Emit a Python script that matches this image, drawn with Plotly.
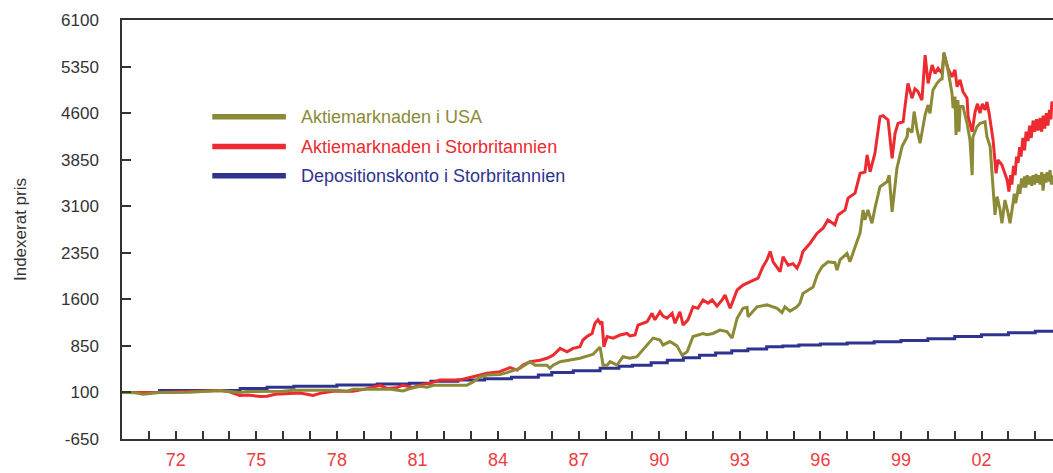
import plotly.graph_objects as go

# ---------------- data ----------------
usa_years = [1970.0, 1970.5, 1970.78, 1971.1, 1971.41, 1972.5, 1973.65, 1974.0, 1974.39, 1974.65,
             1976.0, 1976.37, 1977.5, 1978.01, 1978.38, 1978.6, 1979.6, 1980.0, 1980.46, 1980.7,
             1981.09, 1981.36, 1981.6, 1982.0, 1982.5, 1982.84, 1983.07, 1983.33, 1983.59, 1984.07,
             1984.33, 1984.82, 1985.19, 1985.38, 1985.82, 1985.93, 1986.05, 1986.31, 1986.68, 1987.05,
             1987.31, 1987.54, 1987.68, 1987.80, 1987.91, 1988.06, 1988.17, 1988.43, 1988.65, 1988.91,
             1989.17, 1989.28, 1989.66, 1989.77, 1990.03, 1990.14, 1990.40, 1990.51, 1990.66, 1990.85,
             1991.04, 1991.26, 1991.63, 1991.78, 1992.00, 1992.26, 1992.52, 1992.71, 1992.90, 1993.12,
             1993.27, 1993.31, 1993.64, 1994.01, 1994.39, 1994.57, 1994.68, 1994.87, 1995.13, 1995.24,
             1995.35, 1995.73, 1995.88, 1996.06, 1996.28, 1996.54, 1996.62, 1996.73, 1996.99, 1997.10,
             1997.29, 1997.48, 1997.59, 1997.66, 1997.77, 1997.92, 1998.03, 1998.22, 1998.48, 1998.56,
             1998.67, 1998.85, 1999.04, 1999.23, 1999.26, 1999.41, 1999.49, 1999.60, 1999.71, 1999.90,
             2000.01, 2000.08, 2000.19, 2000.34, 2000.45, 2000.53, 2000.60, 2000.75, 2000.90, 2000.94,
             2001.01, 2001.05, 2001.12, 2001.16, 2001.20, 2001.31, 2001.46, 2001.57, 2001.65, 2001.68,
             2001.83, 2001.94, 2002.13, 2002.20, 2002.32, 2002.39, 2002.43, 2002.50, 2002.58, 2002.69,
             2002.76, 2002.87, 2002.99, 2003.06, 2003.17, 2003.22, 2003.27, 2003.32, 2003.38, 2003.43,
             2003.49, 2003.54, 2003.60, 2003.65, 2003.70, 2003.76, 2003.81, 2003.87, 2003.92, 2003.97,
             2004.03, 2004.08, 2004.13, 2004.18, 2004.24, 2004.29, 2004.35, 2004.40, 2004.44, 2004.50,
             2004.55, 2004.60, 2004.66]
usa_values = [100, 95, 70, 90, 100, 105, 130, 115, 100, 115,
              118, 135, 140, 135, 120, 150, 150, 150, 125, 160,
              200, 185, 215, 210, 215, 215, 270, 350, 380, 390,
              420, 490, 595, 540, 540, 490, 540, 595, 620, 650,
              685, 715, 780, 830, 540, 540, 595, 540, 675, 650,
              675, 730, 920, 975, 945, 865, 920, 895, 850, 700,
              755, 1000, 1050, 1030, 1050, 1105, 1080, 975, 1295, 1455,
              1470, 1320, 1480, 1510, 1455, 1385, 1480, 1410, 1480, 1540,
              1695, 1800, 1990, 2125, 2205, 2190, 2070, 2235, 2340, 2205,
              2450, 2675, 3040, 2880, 3040, 2825, 3065, 3415, 3495, 3600,
              3010, 3710, 4060, 4220, 4355, 4290, 4625, 4330, 4115, 4570,
              4730, 4595, 4970, 5080, 5135, 5150, 5580, 5295, 4920, 4680,
              4865, 4250, 4810, 4300, 4705, 4705, 4435, 4165, 3600, 4220,
              4380, 4430, 4460, 4220, 4060, 3575, 3280, 2960, 3255, 3040,
              2825, 3200, 2985, 2825, 3145, 3300, 3150, 3255, 3450, 3300,
              3550, 3400, 3580, 3400, 3600, 3450, 3580, 3430, 3600, 3450,
              3620, 3480, 3600, 3450, 3650, 3350, 3620, 3480, 3650, 3500,
              3680, 3450, 3600]

uk_years = [1970.0, 1971.4, 1973.65, 1974.0, 1974.39, 1974.7, 1975.14, 1975.40, 1975.7, 1976.14,
            1976.6, 1976.89, 1977.11, 1977.37, 1977.86, 1978.6, 1979.0, 1979.61, 1979.87, 1980.2,
            1980.46, 1980.83, 1981.2, 1981.47, 1981.84, 1982.58, 1982.96, 1983.33, 1983.59, 1984.07,
            1984.45, 1984.71, 1984.93, 1985.19, 1985.56, 1985.82, 1986.05, 1986.31, 1986.57, 1986.79,
            1987.05, 1987.16, 1987.31, 1987.50, 1987.61, 1987.72, 1987.80, 1987.87, 1987.94, 1988.06,
            1988.28, 1988.54, 1988.80, 1988.91, 1989.10, 1989.21, 1989.55, 1989.73, 1989.84, 1990.03,
            1990.14, 1990.29, 1990.48, 1990.59, 1990.77, 1990.89, 1991.07, 1991.26, 1991.44, 1991.63,
            1991.82, 1991.97, 1992.15, 1992.34, 1992.45, 1992.64, 1992.90, 1993.12, 1993.49, 1993.68,
            1993.86, 1994.01, 1994.13, 1994.24, 1994.50, 1994.61, 1994.80, 1994.98, 1995.13, 1995.24,
            1995.35, 1995.61, 1995.88, 1996.10, 1996.28, 1996.54, 1996.66, 1996.92, 1997.03, 1997.29,
            1997.48, 1997.66, 1997.74, 1997.85, 1998.03, 1998.22, 1998.33, 1998.52, 1998.67, 1998.78,
            1998.89, 1999.08, 1999.15, 1999.26, 1999.41, 1999.52, 1999.63, 1999.78, 1999.90, 2000.01,
            2000.16, 2000.27, 2000.38, 2000.53, 2000.60, 2000.75, 2000.90, 2001.01, 2001.09, 2001.20,
            2001.31, 2001.46, 2001.50, 2001.65, 2001.76, 2001.85, 2001.94, 2002.03, 2002.13, 2002.20,
            2002.28, 2002.39, 2002.43, 2002.54, 2002.61, 2002.76, 2002.84, 2002.95, 2003.02, 2003.08,
            2003.13, 2003.19, 2003.25, 2003.30, 2003.36, 2003.42, 2003.47, 2003.54, 2003.60, 2003.66,
            2003.73, 2003.79, 2003.85, 2003.92, 2003.98, 2004.05, 2004.11, 2004.18, 2004.24, 2004.29,
            2004.35, 2004.41, 2004.47, 2004.53, 2004.58, 2004.62, 2004.66]
uk_values = [100, 100, 130, 110, 50, 60, 35, 40, 70, 85,
             90, 70, 50, 85, 120, 120, 150, 215, 165, 175,
             215, 180, 230, 250, 300, 300, 340, 380, 410, 435,
             500, 460, 540, 595, 620, 650, 700, 810, 755, 810,
             835, 945, 1000, 1050, 1215, 1270, 1215, 1240, 835, 1000,
             975, 1025, 1050, 1010, 1025, 1185, 1240, 1375, 1270, 1400,
             1330, 1295, 1375, 1215, 1400, 1185, 1270, 1480, 1455, 1590,
             1540, 1590, 1490, 1590, 1670, 1455, 1750, 1830, 1910, 1940,
             2125, 2235, 2370, 2205, 2045, 2285, 2150, 2175, 2100, 2205,
             2370, 2500, 2665, 2745, 2880, 2800, 2960, 3040, 3230, 3310,
             3630, 3650, 3925, 3655, 3950, 4545, 4560, 4490, 3870, 4275,
             4435, 4460, 4705, 5080, 4840, 4990, 4950, 4810, 5535, 5080,
             5375, 5240, 5320, 5240, 5560, 5320, 5185, 5295, 5025, 5135,
             4945, 4840, 4545, 4300, 4620, 4750, 4600, 4750, 4650, 4780,
             4600, 4220, 4165, 3630, 3845, 3765, 3655, 3525, 3335, 3600,
             3450, 3750, 3600, 3900, 3800, 4050, 3900, 4200, 4000, 4300,
             4150, 4400, 4200, 4480, 4300, 4500, 4320, 4520, 4300, 4560,
             4350, 4600, 4400, 4650, 4500, 4785, 4700]

deposit_years = [1970.0, 1971.4, 1974.4, 1975.4, 1976.4, 1978.0, 1979.5, 1980.7, 1981.5, 1982.5,
                 1983.5, 1984.5, 1985.5, 1986.0, 1986.8, 1987.8, 1988.5, 1989.0, 1989.7, 1990.3,
                 1990.9, 1991.5, 1992.1, 1992.7, 1993.3, 1994.0, 1994.6, 1995.2, 1996.0, 1997.0,
                 1998.0, 1999.0, 2000.0, 2001.0, 2002.0, 2003.0, 2004.0, 2004.7]
deposit_values = [100, 130, 165, 185, 200, 220, 235, 250, 280, 300,
                  320, 345, 380, 420, 450, 490, 520, 540, 580, 620,
                  660, 700, 735, 770, 800, 835, 850, 865, 880, 895,
                  915, 935, 965, 1000, 1030, 1060, 1085, 1090]

series_names = ["Aktiemarknaden i USA", "Aktiemarknaden i Storbritannien",
                "Depositionskonto i Storbritannien"]
series_colors = ["#8c8a37", "#ec2a30", "#2e3390"]

tick_years = list(range(1971, 2005))
label_years = {1972: "72", 1975: "75", 1978: "78", 1981: "81", 1984: "84", 1987: "87",
               1990: "90", 1993: "93", 1996: "96", 1999: "99", 2002: "02"}
y_ticks = [-650, 100, 850, 1600, 2350, 3100, 3850, 4600, 5350, 6100]

FONT = "Liberation Sans, Arial, sans-serif"

fig = go.Figure()
fig.add_trace(go.Scatter(x=deposit_years, y=deposit_values, mode="lines", line_shape="hv",
                         line=dict(color=series_colors[2], width=3), name=series_names[2]))
fig.add_trace(go.Scatter(x=uk_years, y=uk_values, mode="lines",
                         line=dict(color=series_colors[1], width=3), name=series_names[1]))
fig.add_trace(go.Scatter(x=usa_years, y=usa_values, mode="lines",
                         line=dict(color=series_colors[0], width=3), name=series_names[0]))

# custom legend (long line samples)
leg_rows = [0.769, 0.698, 0.628]
for name, color, yy in zip(series_names, series_colors, leg_rows):
    fig.add_shape(type="line", xref="paper", yref="paper", x0=0.097, x1=0.176, y0=yy, y1=yy,
                  line=dict(color=color, width=5.5))
    fig.add_annotation(xref="paper", yref="paper", x=0.190, y=yy, text=name, showarrow=False,
                       xanchor="left", yanchor="middle", font=dict(family=FONT, size=18, color=color))

fig.add_annotation(xref="paper", yref="paper", x=-0.109, y=0.5, text="Indexerat pris",
                   textangle=-90, showarrow=False, xanchor="center", yanchor="middle",
                   font=dict(family=FONT, size=17, color="#333333"))

fig.update_layout(
    width=1053, height=473,
    margin=dict(l=122, r=0, t=20, b=34),
    paper_bgcolor="white", plot_bgcolor="white",
    showlegend=False,
    xaxis=dict(range=[1970, 2004.66], tickvals=tick_years,
               ticktext=[label_years.get(y, "") for y in tick_years],
               ticks="inside", ticklen=8, tickwidth=1.5, tickcolor="#333333",
               showline=True, linecolor="#333333", linewidth=1.5, mirror=True,
               showgrid=False, zeroline=False, ticklabelstandoff=4,
               tickfont=dict(family=FONT, size=18, color="#ee3b42")),
    yaxis=dict(range=[-650, 6100], tickvals=y_ticks, ticktext=[str(v) for v in y_ticks],
               ticks="inside", ticklen=9, tickwidth=1.5, tickcolor="#333333",
               showline=True, linecolor="#333333", linewidth=1.5,
               showgrid=False, zeroline=False, ticklabelstandoff=18,
               tickfont=dict(family=FONT, size=17, color="#333333")),
)

fig.write_html("out.html", config={"displayModeBar": False},
               post_script="document.body.style.margin='0';document.body.style.overflow='hidden';")
